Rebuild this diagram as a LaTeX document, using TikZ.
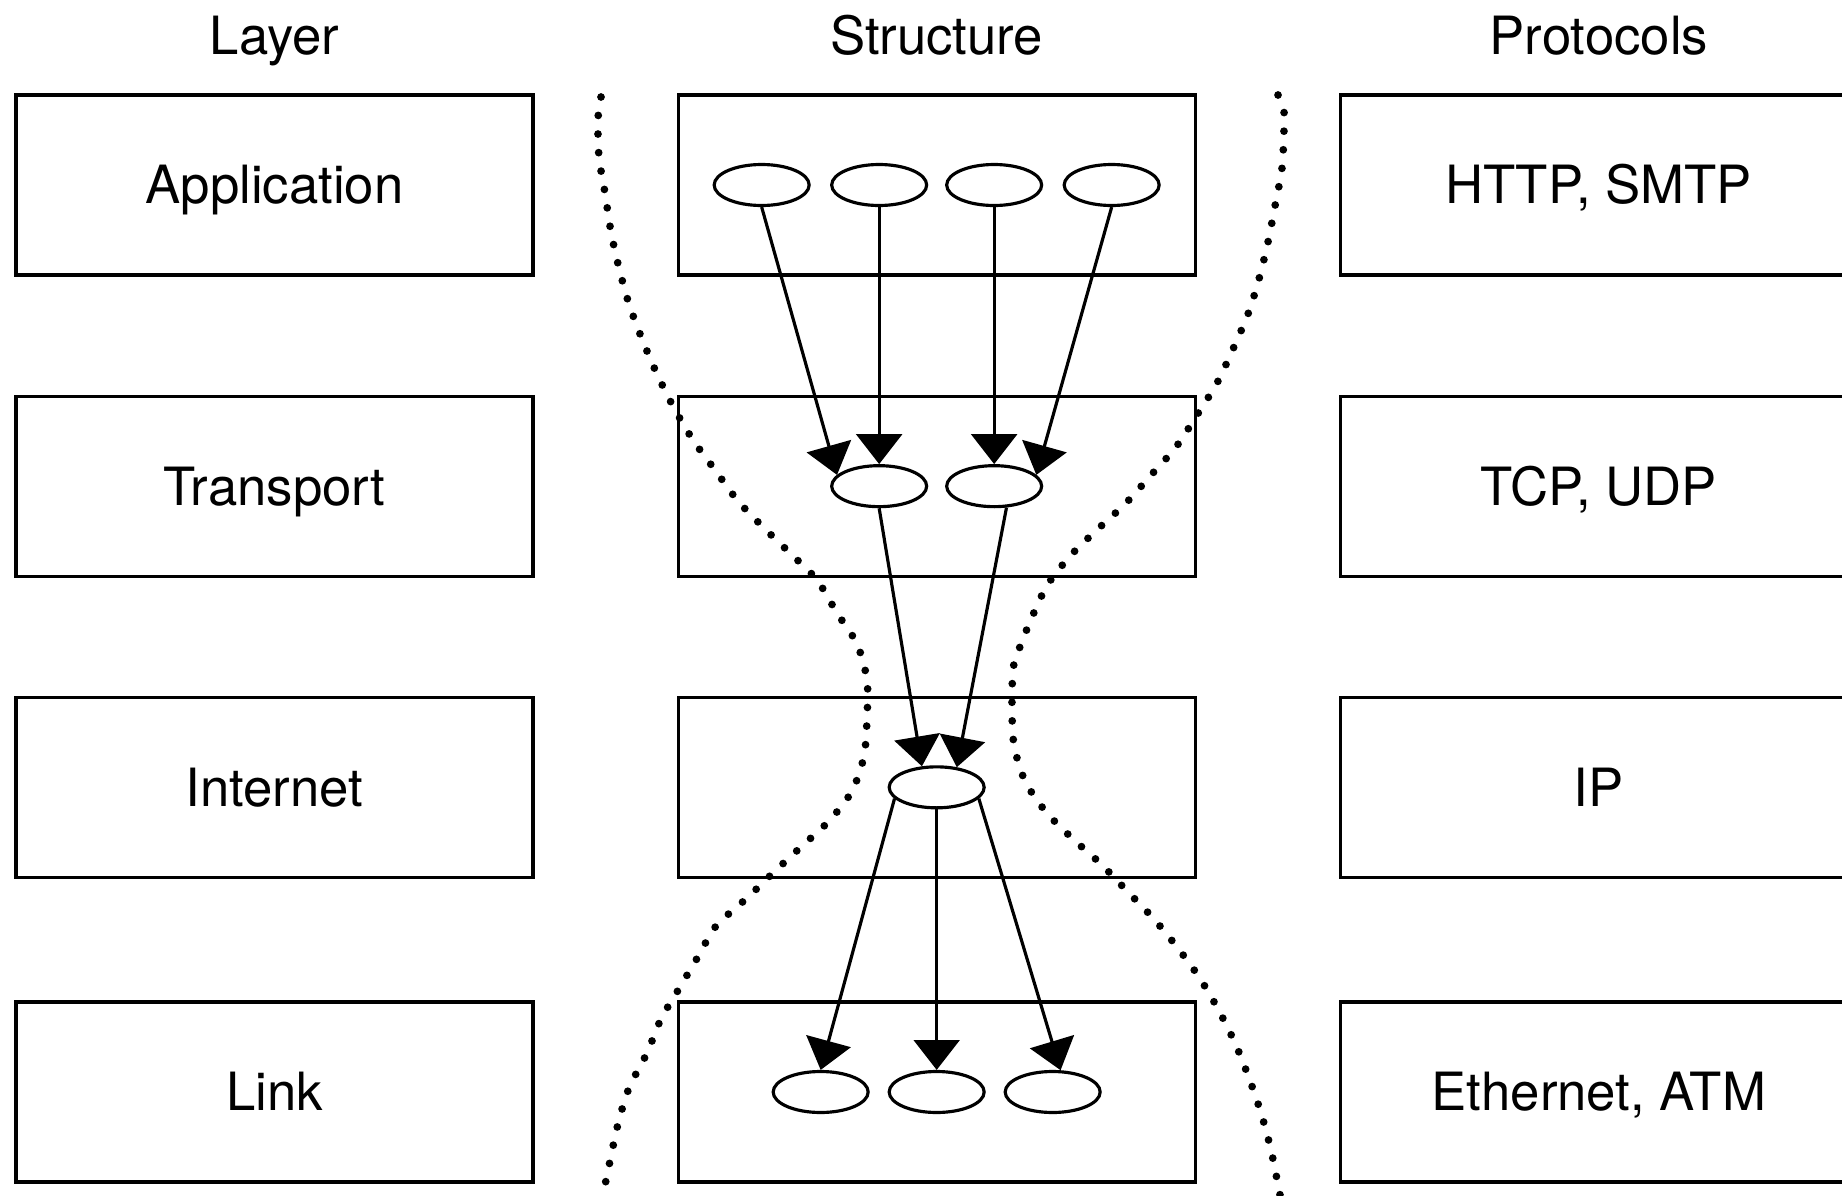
\documentclass[tikz,border=0pt]{standalone}
\usepackage{fontspec}
\setmainfont{TeX Gyre Heros}
\usetikzlibrary{positioning,arrows.meta,shapes}
\tikzstyle{lbox}=[rectangle, draw=black, line width=0.9pt, minimum width=5.17cm,
                  minimum height=1.80cm, inner sep=0pt, text height=10.8pt, text depth=0pt,
                  font=\fontsize{15}{18}\selectfont]
\tikzstyle{hbox}=[anchor=base, inner sep=0pt, font=\fontsize{15}{18}\selectfont]
\tikzstyle{hop}=[ellipse, draw=black, line width=0.9pt, minimum width=0.95cm,
                 minimum height=0.41cm, inner sep=0pt]
\tikzstyle{pline}=[-{Triangle[length=8.5pt,width=13pt]}, line width=0.9pt]
\tikzstyle{dline}=[line width=2.2pt, line cap=round, dash pattern=on 0pt off 5.3pt]
\begin{document}
\begin{tikzpicture}[node distance=0mm]
\useasboundingbox (0,0) rectangle (18.42,-11.95);

% layer column
\node (LAPP) [lbox] at (2.745,-1.85) {Application};
\node (LTRA) [lbox,below=1.18cm of LAPP] {Transport};
\node (LINT) [lbox,below=1.18cm of LTRA] {Internet};
\node (LLNK) [lbox,below=1.215cm of LINT] {Link};

% structure column
\node (SAPP) [lbox,right=1.42cm of LAPP] {};
\node (STRA) [lbox,right=1.42cm of LTRA] {};
\node (SINT) [lbox,right=1.42cm of LINT] {};
\node (SLNK) [lbox,right=1.42cm of LLNK] {};

% protocols column
\node (PAPP) [lbox,right=1.42cm of SAPP] {HTTP, SMTP};
\node (PTRA) [lbox,right=1.42cm of STRA] {TCP, UDP};
\node (PINT) [lbox,right=1.42cm of SINT] {IP};
\node (PLNK) [lbox,right=1.42cm of SLNK] {Ethernet, ATM};

\node (HLAYER) [hbox, yshift=0.39cm] at (LAPP.north) {Layer};
\node (HSTRUCT) [hbox, yshift=0.39cm] at (SAPP.north) {Structure};
\node (HPROTO) [hbox, yshift=0.39cm] at (PAPP.north) {Protocols};

% hourglass
\draw[dline] plot[smooth] coordinates {(6.01,-0.97) (5.98,-1.19) (5.99,-1.57) (6.05,-1.93)
  (6.11,-2.32) (6.19,-2.68) (6.29,-3.04) (6.42,-3.39) (6.57,-3.74) (6.74,-4.08) (6.93,-4.40)
  (7.15,-4.70) (7.38,-5.01) (7.64,-5.28) (7.91,-5.54) (8.17,-5.80) (8.37,-6.13) (8.57,-6.44)
  (8.67,-6.80) (8.67,-7.18) (8.64,-7.56) (8.52,-7.91) (8.29,-8.21) (8.02,-8.46) (7.74,-8.72)
  (7.47,-8.98) (7.16,-9.26) (6.99,-9.55) (6.80,-9.87) (6.61,-10.19) (6.47,-10.53)
  (6.29,-10.88) (6.18,-11.24) (6.10,-11.61) (6.03,-11.95)};
\draw[dline] plot[smooth] coordinates {(12.78,-0.95) (12.84,-1.12) (12.84,-1.30) (12.82,-1.68)
  (12.75,-2.06) (12.68,-2.42) (12.59,-2.79) (12.48,-3.14) (12.33,-3.49) (12.17,-3.83)
  (11.97,-4.15) (11.76,-4.47) (11.52,-4.74) (11.26,-5.03) (10.99,-5.28) (10.72,-5.54)
  (10.48,-5.84) (10.32,-6.17) (10.18,-6.52) (10.13,-6.70) (10.12,-7.08) (10.14,-7.45)
  (10.25,-7.81) (10.46,-8.12) (10.73,-8.39) (11.01,-8.64) (11.27,-8.91) (11.53,-9.18)
  (11.77,-9.47) (11.99,-9.77) (12.18,-10.09) (12.35,-10.43) (12.49,-10.78) (12.61,-11.13)
  (12.71,-11.50) (12.80,-11.95)};

% hops
\node (A1) [hop, xshift=-1.75cm] at (SAPP) {};
\node (A2) [hop, xshift=-0.575cm] at (SAPP) {};
\node (A3) [hop, xshift=0.575cm] at (SAPP) {};
\node (A4) [hop, xshift=1.75cm] at (SAPP) {};
\node (T1) [hop, xshift=-0.575cm] at (STRA) {};
\node (T2) [hop, xshift=0.575cm] at (STRA) {};
\node (I) [hop] at (SINT) {};
\node (L1) [hop, xshift=-1.16cm] at (SLNK) {};
\node (L2) [hop] at (SLNK) {};
\node (L3) [hop, xshift=1.16cm] at (SLNK) {};

\draw[pline] (A1.south) -- (T1.165);
\draw[pline] (A2) -- (T1);
\draw[pline] (A3) -- (T2);
\draw[pline] (A4.south) -- (T2.15);
\draw[pline] (T1.south) -- (I.125);
\draw[pline] (T2.-60) -- (I.45);
\draw[pline] (I.195) -- (L1.north);
\draw[pline] (I) -- (L2);
\draw[pline] (I.345) -- (L3.70);

\end{tikzpicture}
\end{document}
